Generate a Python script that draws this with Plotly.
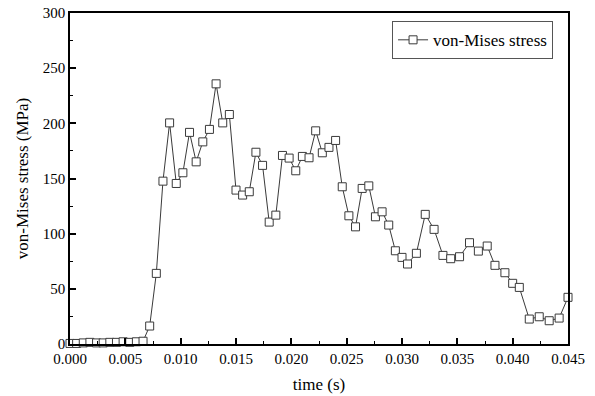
import plotly.graph_objects as go

time_s = [0.0, 0.0006, 0.0012, 0.0018, 0.0024, 0.0030, 0.0036, 0.0042, 0.0048, 0.0054, 0.0060, 0.0066,
          0.0072, 0.0078, 0.0084, 0.0090, 0.0096, 0.0102, 0.0108, 0.0114, 0.0120, 0.0126, 0.0132,
          0.0138, 0.0144, 0.0150, 0.0156, 0.0162, 0.0168, 0.0174, 0.0180, 0.0186, 0.0192, 0.0198,
          0.0204, 0.0210, 0.0216, 0.0222, 0.0228, 0.0234, 0.0240, 0.0246, 0.0252, 0.0258, 0.0264,
          0.0270, 0.0276, 0.0282, 0.0288, 0.0294, 0.0300, 0.0305, 0.0313, 0.0321, 0.0329, 0.0337,
          0.0344, 0.0352, 0.0361, 0.0369, 0.0377, 0.0384, 0.0393, 0.0400, 0.0406, 0.0415, 0.0424,
          0.0433, 0.0442, 0.0450]
stress_mpa = [0.5, 0.5, 1, 1.5, 1, 1, 1.5, 1.5, 2, 1.5, 2, 2.5,
              16.3, 64, 147.6, 200.4, 145.5, 155.2, 191.8, 165.1, 183.2, 194.5, 235.8,
              200.4, 208, 139.5, 135, 138, 173.8, 161.9, 110.5, 116.8, 170.9, 168.5,
              157, 170, 168.8, 193.2, 173.3, 178.2, 184.5, 142.5, 116.2, 106.2, 141,
              143.3, 115.3, 119.8, 107.8, 84.5, 78.5, 72.5, 82.2, 117.5, 103.9, 80.3,
              77.3, 79.1, 91.8, 84.2, 88.8, 71.3, 64.6, 55, 51.3, 22.6, 24.7,
              21.1, 23.5, 42.3]

x_ticks = [0.0, 0.005, 0.010, 0.015, 0.020, 0.025, 0.030, 0.035, 0.040, 0.045]
x_tick_labels = ["0.000", "0.005", "0.010", "0.015", "0.020", "0.025", "0.030", "0.035", "0.040", "0.045"]
y_ticks = [0, 50, 100, 150, 200, 250, 300]

FONT = "Liberation Serif, Times New Roman, serif"

fig = go.Figure()
fig.add_trace(go.Scatter(
    x=time_s, y=stress_mpa, mode="lines+markers", name="von-Mises stress",
    line=dict(color="#3a3a3a", width=1),
    marker=dict(symbol="square", size=8, color="white", line=dict(color="#3a3a3a", width=1)),
    cliponaxis=False,
))

axis_common = dict(
    showline=True, linecolor="black", linewidth=1.5, mirror=True,
    ticks="inside", ticklen=6, tickwidth=1.5, tickcolor="black",
    showgrid=False, zeroline=False,
    tickfont=dict(family=FONT, size=15, color="black"),
)

fig.update_xaxes(
    range=[0, 0.045], tickvals=x_ticks, ticktext=x_tick_labels,
    minor=dict(ticks="inside", ticklen=3, tickwidth=1.2, tickcolor="black", dtick=0.0025, tick0=0),
    title=dict(text="time (s)", font=dict(family=FONT, size=17, color="black"), standoff=12),
    **axis_common,
)
fig.update_yaxes(
    range=[0, 300], tickvals=y_ticks,
    minor=dict(ticks="inside", ticklen=3, tickwidth=1.2, tickcolor="black", dtick=25, tick0=0),
    title=dict(text="von-Mises stress (MPa)", font=dict(family=FONT, size=17, color="black"), standoff=10),
    **axis_common,
)

fig.update_layout(
    width=595, height=396,
    margin=dict(l=70, r=27, t=13, b=52, autoexpand=False),
    paper_bgcolor="white", plot_bgcolor="white",
    showlegend=True,
    legend=dict(
        x=0.97, y=0.975, xanchor="right", yanchor="top",
        bordercolor="#555", borderwidth=1, bgcolor="white",
        font=dict(family=FONT, size=17, color="black"),
        itemwidth=30, tracegroupgap=0,
    ),
)

fig.write_html("out.html", config={"displayModeBar": False},
               post_script="document.body.style.margin='0';")
